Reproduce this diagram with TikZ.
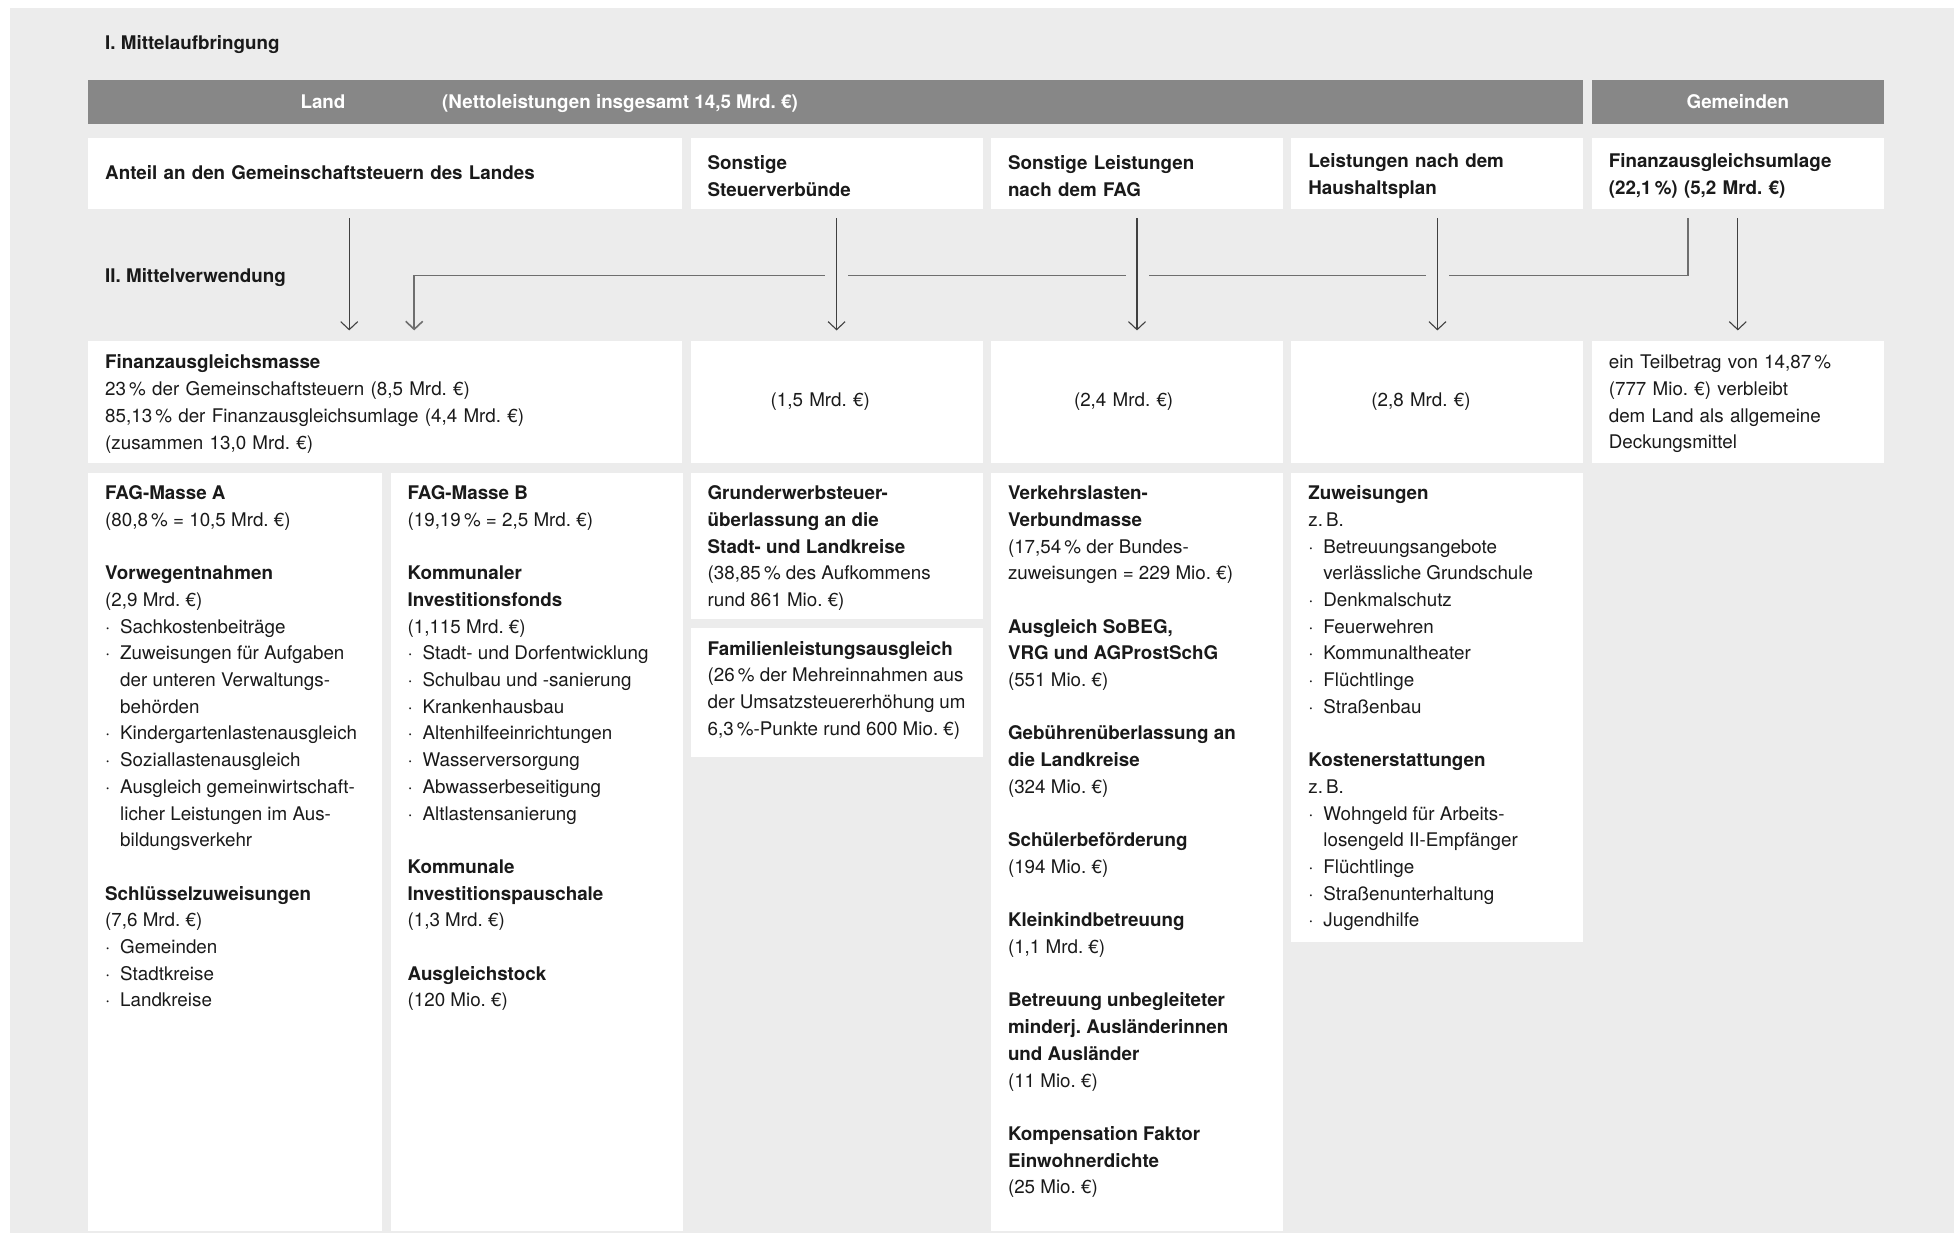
\documentclass[tikz,border=0pt]{standalone}
\usepackage{fontspec}
\setmainfont{TeX Gyre Heros}
\usetikzlibrary{arrows.meta, positioning}
\definecolor{hgrund}{HTML}{ECECEC}
\definecolor{balken}{HTML}{878787}
\definecolor{linie}{HTML}{6E6E6E}
\definecolor{pfeilgrau}{HTML}{404040}
\definecolor{schrift}{HTML}{1A1A1A}
\newcommand{\grundschrift}{\fontsize{18.8}{26.7}\selectfont\frenchspacing}
\newcommand{\punkt}{\makebox[15pt][l]{·}}
\newcommand{\einzug}{\hspace*{15pt}}

\begin{document}
\begin{tikzpicture}[x=1pt, y=1pt, >={Straight Barb[length=8pt,width=17pt]},
    every node/.style={text=schrift, font=\grundschrift}]
  \tikzstyle{titel}=[anchor=west, inner sep=0pt, font=\grundschrift\bfseries]
  \tikzstyle{balkenfeld}=[fill=balken, anchor=north west, minimum height=44pt, inner sep=0pt, text=white, font=\grundschrift\bfseries]
  \tikzstyle{balkentext}=[inner sep=0pt, text=white, font=\grundschrift\bfseries]
  \tikzstyle{quelle}=[fill=white, minimum height=71pt, text width=258pt, inner xsep=17pt, inner ysep=0pt, align=left, font=\grundschrift\bfseries]
  \tikzstyle{ziel}=[fill=white, minimum height=122pt, text width=258pt, inner xsep=17pt, inner ysep=0pt, align=left]
  \tikzstyle{spalte}=[fill=white, anchor=north west, inner xsep=17pt, inner ysep=8pt]
  \tikzstyle{leitung}=[->, draw=linie, line width=1.6pt, shorten <=9pt, shorten >=10pt]
  \tikzstyle{pfeil}=[->, draw=pfeilgrau, line width=1.1pt, shorten <=9pt, shorten >=10pt, preaction={draw=hgrund, line width=23pt, -}]

  \useasboundingbox (0,0) rectangle (1954,-1233);
  \fill[hgrund] (10,-8) rectangle (1954,-1233);

  \node[titel] (titel1) at (105,-44.5)  {I. Mittelaufbringung};
  \node[titel] (titel2) at (105,-277.5) {II. Mittelverwendung};

  % Mittelaufbringung
  \node[quelle, text width=560pt, anchor=north west] (anteil) at (88,-138) {\strut Anteil an den Gemeinschaftsteuern des Landes};
  \node[quelle, right=8pt of anteil]   (steuer)   {\strut Sonstige\\ Steuerverbünde};
  \node[quelle, right=8pt of steuer]   (fagleist) {\strut Sonstige Leistungen\\ nach dem FAG};
  \node[quelle, right=8pt of fagleist] (plan)     {\strut Leistungen nach dem\\ Haushaltsplan};
  \node[quelle, right=8pt of plan]     (umlage)   {\strut Finanzausgleichsumlage\\ (22,1\,\%) (5,2 Mrd. €)};

  \node[balkenfeld, minimum width=1495pt, above=14pt of anteil.north west, anchor=south west] (landbar) {};
  \node[balkentext, anchor=base] (land) at ([xshift=235pt, yshift=-7pt]landbar.west) {Land};
  \node[balkentext, anchor=base west] (netto) at ([xshift=354pt, yshift=-7pt]landbar.west) {(Nettoleistungen insgesamt 14,5 Mrd. €)};
  \node[balkenfeld, minimum width=292pt, above=14pt of umlage] (gembar) {Gemeinden};

  % Mittelverwendung
  \node[ziel, text width=560pt, below=131pt of anteil.south west, anchor=north west] (masse)
    {\strut\textbf{Finanzausgleichsmasse}\\
     23\,\% der Gemeinschaftsteuern (8,5 Mrd. €)\\
     85,13\,\% der Finanzausgleichsumlage (4,4 Mrd. €)\\
     (zusammen 13,0 Mrd. €)};
  \node[ziel, right=8pt of masse]   (steuer2) {\strut\hspace*{63pt}(1,5 Mrd. €)};
  \node[ziel, right=8pt of steuer2] (fag2)    {\strut\hspace*{66pt}(2,4 Mrd. €)};
  \node[ziel, right=8pt of fag2]    (plan2)   {\strut\hspace*{63pt}(2,8 Mrd. €)};
  \node[ziel, right=8pt of plan2]   (umlage2)
    {\strut ein Teilbetrag von 14,87\,\%\\
     (777 Mio. €) verbleibt\\
     dem Land als allgemeine\\
     Deckungsmittel};

  \node[spalte, below=10pt of masse.south west, anchor=north west] (masseA)
    {\parbox[t][742pt][t]{260pt}{\raggedright\strut
     \textbf{FAG-Masse A}\\
     (80,8\,\% = 10,5 Mrd. €)\\[26.7pt]
     \textbf{Vorwegentnahmen}\\
     (2,9 Mrd. €)\\
     \punkt Sachkostenbeiträge\\
     \punkt Zuweisungen für Aufgaben\\
     \einzug der unteren Verwaltungs-\\
     \einzug behörden\\
     \punkt Kindergartenlastenausgleich\\
     \punkt Soziallastenausgleich\\
     \punkt Ausgleich gemeinwirtschaft-\\
     \einzug licher Leistungen im Aus-\\
     \einzug bildungsverkehr\\[26.7pt]
     \textbf{Schlüsselzuweisungen}\\
     (7,6 Mrd. €)\\
     \punkt Gemeinden\\
     \punkt Stadtkreise\\
     \punkt Landkreise}};
  \node[spalte, right=8pt of masseA.north east, anchor=north west] (masseB)
    {\parbox[t][742pt][t]{258pt}{\raggedright\strut
     \textbf{FAG-Masse B}\\
     (19,19\,\% = 2,5 Mrd. €)\\[26.7pt]
     \textbf{Kommunaler}\\
     \textbf{Investitionsfonds}\\
     (1,115 Mrd. €)\\
     \punkt Stadt- und Dorfentwicklung\\
     \punkt Schulbau und -sanierung\\
     \punkt Krankenhausbau\\
     \punkt Altenhilfeeinrichtungen\\
     \punkt Wasserversorgung\\
     \punkt Abwasserbeseitigung\\
     \punkt Altlastensanierung\\[26.7pt]
     \textbf{Kommunale}\\
     \textbf{Investitionspauschale}\\
     (1,3 Mrd. €)\\[26.7pt]
     \textbf{Ausgleichstock}\\
     (120 Mio. €)}};
  \node[spalte, below=10pt of steuer2.south west, anchor=north west] (grund)
    {\parbox[t][130pt][t]{258pt}{\raggedright\strut
     \textbf{Grunderwerbsteuer-}\\
     \textbf{überlassung an die}\\
     \textbf{Stadt- und Landkreise}\\
     (38,85\,\% des Aufkommens\\
     rund 861 Mio. €)}};
  \node[spalte, below=9pt of grund.south west, anchor=north west] (familie)
    {\parbox[t][113pt][t]{258pt}{\raggedright\strut
     \textbf{Familienleistungsausgleich}\\
     (26\,\% der Mehreinnahmen aus\\
     der Umsatzsteuererhöhung um\\
     6,3\,\%-Punkte rund 600 Mio. €)}};
  \node[spalte, below=10pt of fag2.south west, anchor=north west] (fagspalte)
    {\parbox[t][742pt][t]{258pt}{\raggedright\strut
     \textbf{Verkehrslasten-}\\
     \textbf{Verbundmasse}\\
     (17,54\,\% der Bundes-\\
     zuweisungen = 229 Mio. €)\\[26.7pt]
     \textbf{Ausgleich SoBEG,}\\
     \textbf{VRG und AGProstSchG}\\
     (551 Mio. €)\\[26.7pt]
     \textbf{Gebührenüberlassung an}\\
     \textbf{die Landkreise}\\
     (324 Mio. €)\\[26.7pt]
     \textbf{Schülerbeförderung}\\
     (194 Mio. €)\\[26.7pt]
     \textbf{Kleinkindbetreuung}\\
     (1,1 Mrd. €)\\[26.7pt]
     \textbf{Betreuung unbegleiteter}\\
     \textbf{minderj. Ausländerinnen}\\
     \textbf{und Ausländer}\\
     (11 Mio. €)\\[26.7pt]
     \textbf{Kompensation Faktor}\\
     \textbf{Einwohnerdichte}\\
     (25 Mio. €)}};
  \node[spalte, below=10pt of plan2.south west, anchor=north west] (planspalte)
    {\parbox[t][453pt][t]{258pt}{\raggedright\strut
     \textbf{Zuweisungen}\\
     z.\,B.\\
     \punkt Betreuungsangebote\\
     \einzug verlässliche Grundschule\\
     \punkt Denkmalschutz\\
     \punkt Feuerwehren\\
     \punkt Kommunaltheater\\
     \punkt Flüchtlinge\\
     \punkt Straßenbau\\[26.7pt]
     \textbf{Kostenerstattungen}\\
     z.\,B.\\
     \punkt Wohngeld für Arbeits-\\
     \einzug losengeld II-Empfänger\\
     \punkt Flüchtlinge\\
     \punkt Straßenunterhaltung\\
     \punkt Jugendhilfe}};

  % Verbindungen
  \draw[leitung] ([xshift=-50pt]umlage.south) -- ++(0,-66) -| ([xshift=29pt]masse.north);
  \draw[pfeil] ([xshift=-36pt]anteil.south) -- ([xshift=-36pt]masse.north);
  \draw[pfeil] (steuer)   -- (steuer2);
  \draw[pfeil] (fagleist) -- (fag2);
  \draw[pfeil] (plan)     -- (plan2);
  \draw[pfeil] (umlage)   -- (umlage2);
\end{tikzpicture}
\end{document}
